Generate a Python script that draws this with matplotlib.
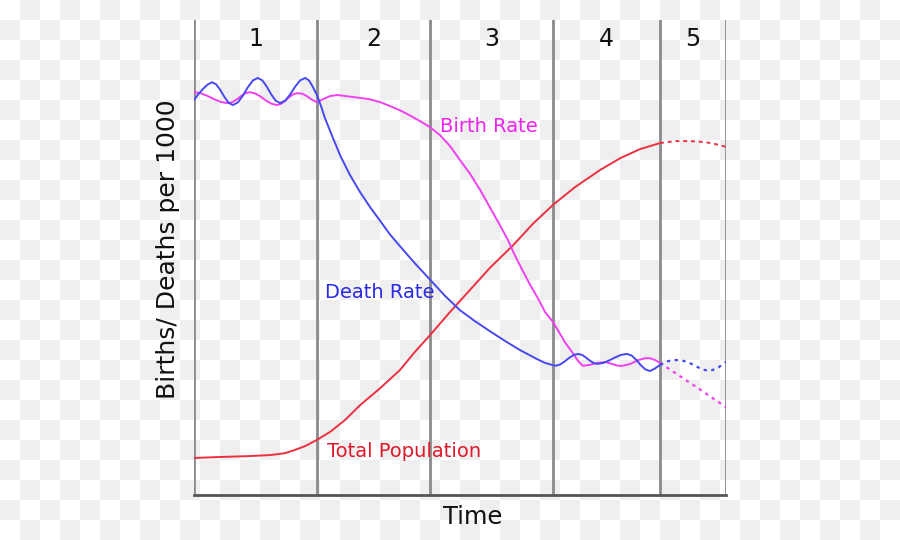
import numpy as np
import matplotlib
matplotlib.use("Agg")
import matplotlib.pyplot as plt

# stage boundaries (time axis, 0-100) and stage names
stage_edges = [0, 23.1, 44.4, 67.5, 87.6, 100]
stage_names = ["1", "2", "3", "4", "5"]

# death rate (solid part, then projected dotted part)
death_t = [0, 0.85, 1.7, 2.55, 3.4, 4.18, 4.96, 5.74, 6.52, 7.3, 8.24, 9.18, 10.12, 11.06, 12.0,
           12.84, 13.68, 14.52, 15.36, 16.2, 17.14, 18.08, 19.02, 19.96, 20.9, 21.6, 22.3, 23.1,
           23.9, 24.6, 26.1, 27.6, 29.3, 31.2, 33.1, 35.0, 36.8, 38.7, 41.5, 44.4, 47.2, 50.0,
           52.8, 55.6, 58.5, 61.3, 64.5, 66.0, 67.9, 68.76, 69.62, 70.48, 71.34, 72.2, 72.92,
           73.64, 74.36, 75.08, 75.8, 76.92, 78.04, 79.16, 80.28, 81.4, 82.26, 83.12, 83.98, 84.84,
           85.7, 86.6, 87.6]
death_v = [83.2, 84.4, 85.5, 86.4, 86.9, 86.44, 85.24, 83.76, 82.56, 82.1, 82.64, 84.07, 85.83,
           87.26, 87.8, 87.29, 85.97, 84.33, 83.01, 82.5, 83.01, 84.33, 85.97, 87.29, 87.8, 87.3,
           86.0, 84.2, 81.8, 79.4, 75.2, 71.2, 67.4, 63.8, 60.6, 57.7, 54.9, 52.4, 48.8, 45.3,
           41.9, 38.9, 36.6, 34.5, 32.4, 30.5, 28.6, 27.8, 27.2, 27.44, 28.06, 28.84, 29.46, 29.7,
           29.5, 28.97, 28.33, 27.8, 27.6, 27.8, 28.33, 28.97, 29.5, 29.7, 29.36, 28.46, 27.34,
           26.44, 26.1, 26.6, 27.4]
death_proj_t = [87.6, 88.8, 90.1, 91.4, 92.8, 94.2, 95.6, 97.0, 98.5, 100]
death_proj_v = [27.4, 28.1, 28.4, 28.4, 28.0, 27.2, 26.4, 26.1, 26.8, 28.0]

# birth rate
birth_t = [0, 1.28, 2.56, 3.84, 5.12, 6.4, 7.22, 8.04, 8.86, 9.68, 10.5, 11.52, 12.54, 13.56,
           14.58, 15.6, 16.36, 17.12, 17.88, 18.64, 19.4, 20.3, 21.2, 22.2, 23.1, 24.2, 25.6, 27.0,
           28.4, 31.2, 33.1, 35.0, 36.8, 38.7, 40.6, 42.5, 44.4, 46.2, 48.1, 50.0, 51.9, 53.8, 55.6,
           57.5, 59.0, 60.3, 61.8, 63.2, 64.7, 66.0, 67.5, 68.4, 69.7, 71.2, 72.2, 73.1, 74.4, 75.8,
           77.3, 78.6, 79.7, 80.6, 82.0, 83.5, 84.8, 85.7, 86.7, 87.6]
birth_v = [84.8, 84.58, 84.0, 83.3, 82.72, 82.5, 82.72, 83.3, 84.0, 84.58, 84.8, 84.54, 83.87,
           83.03, 82.36, 82.1, 82.34, 82.96, 83.74, 84.36, 84.6, 84.5, 84.0, 83.2, 82.7, 83.3,
           84.0, 84.2, 84.0, 83.6, 83.3, 82.7, 81.9, 81.0, 79.9, 78.7, 77.4, 75.8, 73.5, 70.5,
           67.6, 64.2, 60.6, 56.8, 53.7, 50.5, 47.2, 44.2, 41.3, 38.5, 36.4, 34.7, 32.2, 29.9,
           28.2, 27.2, 27.4, 27.8, 28.0, 27.6, 27.2, 27.2, 27.6, 28.4, 28.8, 28.8, 28.4, 27.8]
birth_proj_t = [87.6, 93.8, 100]
birth_proj_v = [27.8, 23.2, 18.5]

# total population
pop_t = [0, 4.9, 10.5, 14.3, 17.1, 19.0, 20.9, 23.1, 25.6, 28.4, 31.2, 35.0, 38.7, 41.5, 44.4, 48.1,
         51.9, 55.6, 60.0, 63.7, 67.5, 71.6, 76.3, 80.1, 83.8, 87.6]
pop_v = [7.8, 8.0, 8.2, 8.4, 8.8, 9.5, 10.3, 11.6, 13.3, 15.8, 18.9, 22.5, 26.3, 30.1, 33.7, 38.5,
         43.2, 47.8, 52.6, 57.1, 61.1, 64.8, 68.4, 70.9, 72.8, 74.1]
pop_proj_t = [87.6, 90.4, 93.2, 96.1, 97.9, 100]
pop_proj_v = [74.1, 74.5, 74.5, 74.3, 73.9, 73.3]

c_birth = "#f040f0"
c_death = "#4848f0"
c_pop = "#ec3040"

fig = plt.figure(figsize=(9, 5.4), dpi=100)
fig.patch.set_facecolor("white")

# checkerboard backdrop like the original transparent png
yy, xx = np.indices((540, 900))
checker = ((xx // 20 + yy // 20) % 2).astype(float)
bg = np.where(checker[..., None] > 0, [0.94, 0.94, 0.94], [1.0, 1.0, 1.0])
fig.figimage(bg, 0, 0, zorder=-10)

ax = fig.add_axes([194 / 900, 45 / 540, 532 / 900, 475 / 540])
ax.set_facecolor("none")
ax.set_xlim(0, 100)
ax.set_ylim(0, 100)

for e in stage_edges:
    ax.axvline(e, color="#8a8a8a", lw=2.0, zorder=1)
for i, name in enumerate(stage_names):
    mid = (stage_edges[i] + stage_edges[i + 1]) / 2
    ax.text(mid, 96.0, name, ha="center", va="center", fontsize=17, color="#111111")

ax.plot(pop_t, pop_v, color=c_pop, lw=1.4, zorder=3)
ax.plot(pop_proj_t, pop_proj_v, color=c_pop, lw=1.4, ls=(0, (2, 2)), zorder=3)
ax.plot(birth_t, birth_v, color=c_birth, lw=1.4, zorder=3)
ax.plot(birth_proj_t, birth_proj_v, color=c_birth, lw=1.6, ls=(0, (1.5, 2)), zorder=3)
ax.plot(death_t, death_v, color=c_death, lw=1.4, zorder=4)
ax.plot(death_proj_t, death_proj_v, color=c_death, lw=1.6, ls=(0, (1.5, 2)), zorder=4)

ax.text(46.2, 77.5, "Birth Rate", color="#ee22ee", fontsize=14, va="center", ha="left")
ax.text(24.6, 42.7, "Death Rate", color="#2a2ae8", fontsize=14, va="center", ha="left")
ax.text(25.0, 9.1, "Total Population", color="#e01a2a", fontsize=14, va="center", ha="left")

for s in ["top", "right", "left"]:
    ax.spines[s].set_visible(False)
ax.spines["bottom"].set_color("#555555")
ax.spines["bottom"].set_linewidth(2)
ax.set_xticks([])
ax.set_yticks([])

ax.set_ylabel("Births/ Deaths per 1000", fontsize=18, color="#111111")
ax.yaxis.set_label_coords(-0.027, 0.518)
ax.set_xlabel("Time", fontsize=17.5, color="#111111")
ax.xaxis.set_label_coords(0.523, -0.021)

fig.savefig("out.png", dpi=100)
